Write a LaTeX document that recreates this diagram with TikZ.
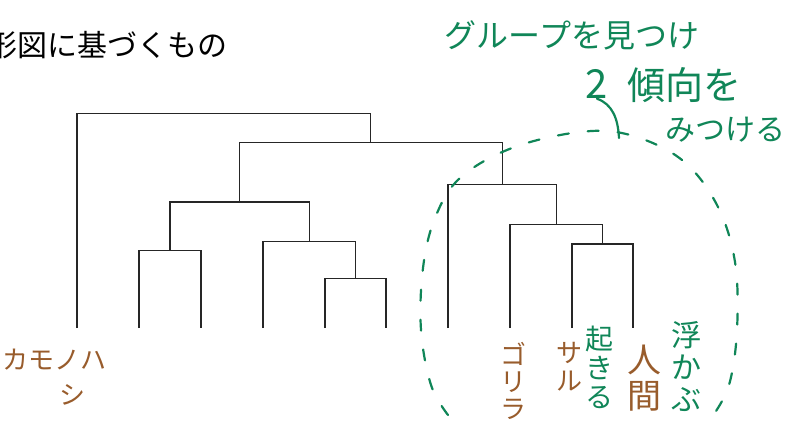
\documentclass[tikz,border=0pt]{standalone}
\usepackage{fontspec}
\newfontfamily\jp{Noto Sans CJK JP}
\definecolor{pen}{RGB}{16,134,88}
\definecolor{ink}{RGB}{152,92,44}
\newcommand{\fsz}[1]{\fontsize{#1}{#1}\selectfont}

\begin{document}
\begin{tikzpicture}[x=1pt,y=-1pt,
  branch/.style={draw=black!85, line width=1.1pt},
  heading/.style={inner sep=0, font=\jp\fsz{30}, text=black},
  greennote/.style={inner sep=0, text=pen},
  brownlabel/.style={inner sep=0, text=ink},
  stroke/.style={draw=pen, line width=2.2pt, line cap=round},
  ring/.style={stroke, dash pattern=on 11pt off 19pt}
]
\useasboundingbox (0,0) rectangle (786,422);

% title (its first glyph runs off the left edge)
\node[heading, anchor=west] (title) at (-13,45) {形図に基づくもの};

% leaves of the tree
\foreach \i/\x in {1/77,2/139,3/201,4/263,5/325,6/386,7/448,8/510,9/572,10/633}
  \coordinate (L\i) at (\x,328);

% merge points
\coordinate (A) at (602.5,244);
\coordinate (B) at (556.3,224.7);
\coordinate (C) at (502.2,184.3);
\coordinate (D) at (355.5,278.3);
\coordinate (E) at (309.3,241.7);
\coordinate (F) at (170,250.3);
\coordinate (G) at (239.6,202);
\coordinate (H) at (370.9,142.7);
\coordinate (R) at (224,113.3);

\draw[branch] (L9) |- (A) -| (L10);
\draw[branch] (L8) |- (B) -| (A);
\draw[branch] (L7) |- (C) -| (B);
\draw[branch] (L5) |- (D) -| (L6);
\draw[branch] (L4) |- (E) -| (D);
\draw[branch] (L2) |- (F) -| (L3);
\draw[branch] (F) |- (G) -| (E);
\draw[branch] (G) |- (H) -| (C);
\draw[branch] (L1) |- (R) -| (H);

% dashed ring round the primate group
\draw[ring] plot[smooth, tension=0.6] coordinates {
  (448,415) (431,385) (421,330) (423,268) (435,218) (460,178)
  (512,148) (580,132) (630,135) (682,160) (717,205) (735,262)
  (737,330) (729,385) (712,417)};

% annotations
\node[greennote, font=\jp\fsz{32}] (grp) at (572,35) {グループを見つけ};
\node[greennote, font=\jp\fsz{40}] (two) at (597,84) {2};
\node[greennote, font=\jp\fsz{38}] (trend) at (684,85) {傾向を};
\node[greennote, font=\jp\fsz{30}] (find) at (725,130) {みつける};
\draw[stroke] (two.south) .. controls (612,104) and (618,118) .. (619,138);

% species labels
\node[brownlabel, font=\jp\fsz{26}] (platypus) at (54,360) {カモノハ};
\node[brownlabel, font=\jp\fsz{26}] (platypus2) at (72,395) {シ};
\node[brownlabel, align=center, font=\jp\fontsize{26}{27}\selectfont] (gorilla) at (513,381) {ゴ\\リ\\ラ};
\node[brownlabel, align=center, font=\jp\fontsize{26}{28}\selectfont] (monkey) at (569,367) {サ\\ル};
\node[greennote, align=center, font=\jp\fontsize{28}{29}\selectfont] (rise) at (599,367) {起\\き\\る};
\node[brownlabel, align=center, font=\jp\fontsize{34}{36}\selectfont] (human) at (644,378) {人\\間};
\node[greennote, align=center, font=\jp\fontsize{30}{32}\selectfont] (float) at (686,367) {浮\\か\\ぶ};
\end{tikzpicture}
\end{document}
